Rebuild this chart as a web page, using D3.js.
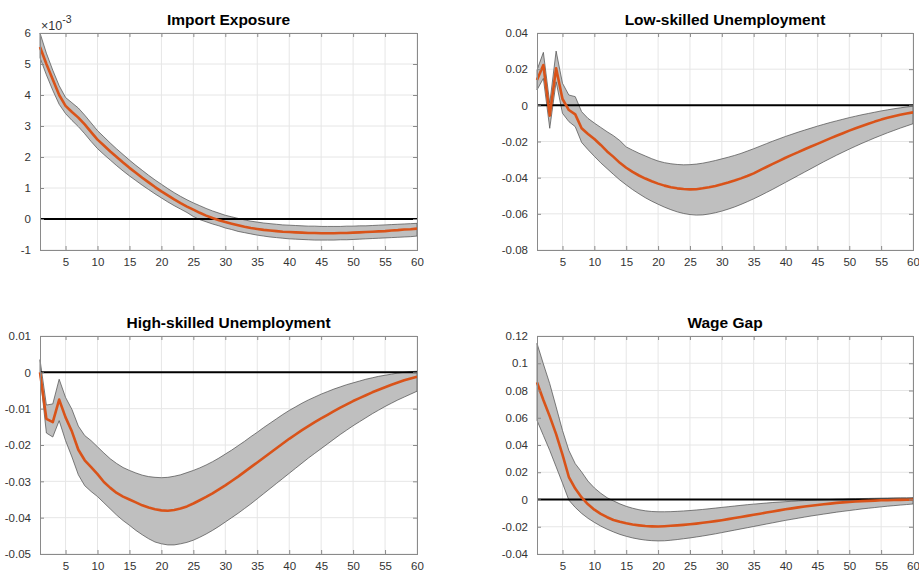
<!DOCTYPE html>
<html>
<head>
<meta charset="utf-8">
<script src="https://cdnjs.cloudflare.com/ajax/libs/d3/7.8.5/d3.min.js"></script>
<style>
  html, body { margin: 0; padding: 0; background: #fff; }
  svg { display: block; font-family: "Liberation Sans", Arial, Helvetica, sans-serif; }
</style>
</head>
<body>
<svg id="chart" width="919" height="571"></svg>
<script>
// Horizon (periods after the shock)
const periods = d3.range(1, 61);
const xTicks = [5, 10, 15, 20, 25, 30, 35, 40, 45, 50, 55, 60];

// Import Exposure, in units of 10^-3
const importMean = [5.55, 5.0, 4.5, 4.0, 3.65, 3.45, 3.27, 3.05, 2.8, 2.56,
  2.37, 2.18, 2.0, 1.82, 1.65, 1.49, 1.33, 1.18, 1.03, 0.89,
  0.76, 0.63, 0.51, 0.40, 0.30, 0.20, 0.11, 0.03, -0.04, -0.10,
  -0.15, -0.20, -0.25, -0.29, -0.32, -0.35, -0.37, -0.39, -0.41, -0.42,
  -0.43, -0.44, -0.45, -0.45, -0.46, -0.46, -0.46, -0.45, -0.45, -0.44,
  -0.43, -0.42, -0.41, -0.40, -0.39, -0.37, -0.36, -0.34, -0.33, -0.31];
const importUpper = [6.0, 5.35, 4.8, 4.3, 3.92, 3.75, 3.58, 3.35, 3.1, 2.85,
  2.65, 2.45, 2.26, 2.08, 1.9, 1.73, 1.57, 1.41, 1.26, 1.12,
  0.98, 0.85, 0.73, 0.62, 0.52, 0.43, 0.34, 0.26, 0.19, 0.12,
  0.07, 0.02, -0.03, -0.07, -0.10, -0.13, -0.15, -0.17, -0.19, -0.20,
  -0.21, -0.22, -0.23, -0.23, -0.24, -0.24, -0.24, -0.24, -0.23, -0.23,
  -0.22, -0.22, -0.21, -0.20, -0.19, -0.18, -0.17, -0.16, -0.15, -0.14];
const importLower = [5.2, 4.65, 4.15, 3.7, 3.4, 3.18, 2.98, 2.75, 2.5, 2.27,
  2.08, 1.9, 1.72, 1.55, 1.39, 1.24, 1.09, 0.95, 0.81, 0.68,
  0.55, 0.43, 0.32, 0.21, 0.08, -0.02, -0.09, -0.16, -0.22, -0.29,
  -0.34, -0.40, -0.44, -0.48, -0.52, -0.55, -0.58, -0.60, -0.62, -0.64,
  -0.65, -0.66, -0.67, -0.68, -0.68, -0.68, -0.68, -0.67, -0.67, -0.66,
  -0.65, -0.64, -0.63, -0.62, -0.61, -0.60, -0.59, -0.58, -0.57, -0.55];

// Low-skilled Unemployment
const lowMean = [0.014, 0.0223, -0.0057, 0.0205, 0.0035, -0.0026, -0.005, -0.0127, -0.0158, -0.0186,
  -0.0219, -0.0255, -0.0285, -0.0318, -0.0345, -0.0368, -0.0388, -0.0405, -0.042, -0.0433,
  -0.0444, -0.0453, -0.0459, -0.0463, -0.0465, -0.0464, -0.0459, -0.0453, -0.0446, -0.0437,
  -0.0427, -0.0416, -0.0404, -0.0391, -0.0376, -0.0358, -0.0341, -0.0324, -0.0307, -0.029,
  -0.0274, -0.0259, -0.0243, -0.0228, -0.0213, -0.0198, -0.0183, -0.0168, -0.0154, -0.014,
  -0.0127, -0.0114, -0.0102, -0.009, -0.0079, -0.0069, -0.006, -0.0052, -0.0045, -0.0039];
const lowUpper = [0.0195, 0.0293, 0.0011, 0.030, 0.0122, 0.0057, 0.0048, -0.0035, -0.0072, -0.0098,
  -0.0122, -0.0146, -0.0168, -0.0195, -0.023, -0.0248, -0.0265, -0.028, -0.0295, -0.0308,
  -0.0317, -0.0323, -0.0327, -0.0329, -0.0328, -0.0325, -0.032, -0.0313, -0.0305, -0.0296,
  -0.0287, -0.0277, -0.0266, -0.0253, -0.024, -0.0226, -0.0212, -0.0198, -0.0185, -0.0172,
  -0.016, -0.0148, -0.0137, -0.0126, -0.0115, -0.0105, -0.0095, -0.0086, -0.0077, -0.0068,
  -0.006, -0.0052, -0.0045, -0.0038, -0.0031, -0.0025, -0.0019, -0.0014, -0.0009, -0.0005];
const lowLower = [0.0085, 0.0149, -0.0127, 0.013, -0.0044, -0.009, -0.0118, -0.0205, -0.0245, -0.0282,
  -0.0318, -0.035, -0.0382, -0.0413, -0.044, -0.0466, -0.0489, -0.0511, -0.053, -0.0547,
  -0.0563, -0.0577, -0.0589, -0.0598, -0.0604, -0.0607, -0.0606, -0.0601, -0.0594, -0.0585,
  -0.0574, -0.0562, -0.0548, -0.0533, -0.0517, -0.05, -0.0482, -0.0464, -0.0445, -0.0426,
  -0.0407, -0.0388, -0.0369, -0.035, -0.0331, -0.0312, -0.0294, -0.0276, -0.0259, -0.0242,
  -0.0226, -0.021, -0.0195, -0.018, -0.0166, -0.0152, -0.0139, -0.0126, -0.0114, -0.0102];

// High-skilled Unemployment
const highMean = [0, -0.0128, -0.0137, -0.0075, -0.0124, -0.0163, -0.0213, -0.0242, -0.0261, -0.028,
  -0.0302, -0.0318, -0.0332, -0.0342, -0.035, -0.0358, -0.0366, -0.0372, -0.0377, -0.038,
  -0.0381, -0.0379, -0.0375, -0.0369, -0.0361, -0.0352, -0.0343, -0.0333, -0.0322, -0.0311,
  -0.0299, -0.0287, -0.0274, -0.0261, -0.0248, -0.0235, -0.0222, -0.0209, -0.0196, -0.0183,
  -0.0171, -0.0159, -0.0148, -0.0137, -0.0127, -0.0117, -0.0107, -0.0097, -0.0088, -0.0079,
  -0.0071, -0.0063, -0.0055, -0.0048, -0.0041, -0.0034, -0.0028, -0.0022, -0.0017, -0.0012];
const highUpper = [0.0035, -0.009, -0.0087, -0.0019, -0.0069, -0.0102, -0.0148, -0.0174, -0.0188, -0.0205,
  -0.0222, -0.0238, -0.0251, -0.0262, -0.027, -0.0277, -0.0283, -0.0287, -0.0289, -0.029,
  -0.0289, -0.0286, -0.0282, -0.0276, -0.027, -0.0263, -0.0255, -0.0246, -0.0236, -0.0225,
  -0.0214, -0.0202, -0.019, -0.0177, -0.0165, -0.0152, -0.014, -0.0128, -0.0116, -0.0105,
  -0.0095, -0.0085, -0.0076, -0.0068, -0.006, -0.0053, -0.0046, -0.004, -0.0034, -0.0029,
  -0.0024, -0.0019, -0.0015, -0.0011, -0.0008, -0.0005, -0.0002, 0.0, 0.0002, 0.0003];
const highLower = [-0.0005, -0.0167, -0.0178, -0.0133, -0.0188, -0.0233, -0.0282, -0.0312, -0.0328, -0.0342,
  -0.0359, -0.0376, -0.0393, -0.0408, -0.0421, -0.0435, -0.0447, -0.0458, -0.0467, -0.0472,
  -0.0475, -0.0475, -0.0472, -0.0468, -0.0462, -0.0454, -0.0445, -0.0435, -0.0424, -0.0412,
  -0.04, -0.0388, -0.0375, -0.0362, -0.0348, -0.0334, -0.032, -0.0306, -0.0292, -0.0278,
  -0.0264, -0.025, -0.0236, -0.0223, -0.021, -0.0197, -0.0184, -0.0171, -0.0159, -0.0147,
  -0.0136, -0.0125, -0.0114, -0.0104, -0.0094, -0.0085, -0.0076, -0.0068, -0.006, -0.0052];

// Wage Gap
const wageMean = [0.086, 0.073, 0.061, 0.048, 0.033, 0.0165, 0.008, 0.0015, -0.0035, -0.0075,
  -0.0105, -0.013, -0.015, -0.0164, -0.0175, -0.0184, -0.019, -0.0195, -0.0197, -0.0198,
  -0.0196, -0.0193, -0.019, -0.0186, -0.0182, -0.0177, -0.0171, -0.0165, -0.0159, -0.0152,
  -0.0144, -0.0136, -0.0128, -0.012, -0.0112, -0.0104, -0.0096, -0.0088, -0.008, -0.0072,
  -0.0065, -0.0058, -0.0052, -0.0046, -0.004, -0.0035, -0.003, -0.0025, -0.0021, -0.0018,
  -0.0015, -0.0012, -0.001, -0.0008, -0.0006, -0.0005, -0.0004, -0.0003, -0.0002, -0.0001];
const wageUpper = [0.1146, 0.0995, 0.085, 0.068, 0.0507, 0.036, 0.0263, 0.0202, 0.0135, 0.0085,
  0.0046, 0.0013, -0.001, -0.0032, -0.005, -0.0064, -0.0075, -0.0083, -0.0088, -0.009,
  -0.009, -0.0089, -0.0087, -0.0084, -0.0081, -0.0077, -0.0073, -0.0068, -0.0063, -0.0058,
  -0.0053, -0.0048, -0.0043, -0.0038, -0.0034, -0.003, -0.0026, -0.0022, -0.0019, -0.0016,
  -0.0013, -0.001, -0.0008, -0.0006, -0.0004, -0.0002, 0.0, 0.0002, 0.0003, 0.0005,
  0.0006, 0.0007, 0.0008, 0.0009, 0.001, 0.0011, 0.0012, 0.0013, 0.0013, 0.0014];
const wageLower = [0.058, 0.047, 0.036, 0.024, 0.012, -0.0005, -0.0058, -0.0102, -0.0138, -0.0168,
  -0.0195, -0.0218, -0.0238, -0.0256, -0.027, -0.0282, -0.0291, -0.0298, -0.0302, -0.0304,
  -0.0303, -0.0299, -0.0294, -0.0288, -0.0282, -0.0275, -0.0268, -0.026, -0.0252, -0.0243,
  -0.0234, -0.0225, -0.0216, -0.0207, -0.0198, -0.0189, -0.018, -0.0171, -0.0162, -0.0153,
  -0.0145, -0.0137, -0.0129, -0.0121, -0.0114, -0.0107, -0.01, -0.0093, -0.0087, -0.0081,
  -0.0075, -0.0069, -0.0064, -0.0059, -0.0054, -0.0049, -0.0045, -0.0041, -0.0037, -0.0033];

// Panel titles and y-axis ticks
const titles = ["Import Exposure", "Low-skilled Unemployment", "High-skilled Unemployment", "Wage Gap"];
const importTicks = [-1, 0, 1, 2, 3, 4, 5, 6];
const lowTicks = [-0.08, -0.06, -0.04, -0.02, 0, 0.02, 0.04];
const highTicks = [-0.05, -0.04, -0.03, -0.02, -0.01, 0, 0.01];
const wageTicks = [-0.04, -0.02, 0, 0.02, 0.04, 0.06, 0.08, 0.1, 0.12];

const panels = [
  { title: titles[0], mean: importMean, upper: importUpper, lower: importLower, ticks: importTicks,
    box: { left: 40, right: 417, top: 33, bottom: 250 }, exponent: -3 },
  { title: titles[1], mean: lowMean, upper: lowUpper, lower: lowLower, ticks: lowTicks,
    box: { left: 537, right: 913, top: 33, bottom: 250 } },
  { title: titles[2], mean: highMean, upper: highUpper, lower: highLower, ticks: highTicks,
    box: { left: 40, right: 417, top: 336, bottom: 554 } },
  { title: titles[3], mean: wageMean, upper: wageUpper, lower: wageLower, ticks: wageTicks,
    box: { left: 537, right: 913, top: 336, bottom: 554 } }
];

const svg = d3.select("#chart");
// plain decimal labels with a hyphen minus and no trailing zeros
const fmt = v => String(+v.toFixed(4));

panels.forEach(p => {
  const b = p.box;
  const w = b.right - b.left, h = b.bottom - b.top;
  const g = svg.append("g").attr("transform", `translate(${b.left},${b.top})`);

  const x = d3.scaleLinear().domain([1, 60]).range([0, w]);
  const y = d3.scaleLinear().domain(d3.extent(p.ticks)).range([h, 0]);

  // grid
  g.append("g").selectAll("line").data(xTicks).join("line")
    .attr("x1", d => x(d)).attr("x2", d => x(d)).attr("y1", 0).attr("y2", h)
    .attr("stroke", "#e6e6e6").attr("stroke-width", 1);
  g.append("g").selectAll("line").data(p.ticks).join("line")
    .attr("x1", 0).attr("x2", w).attr("y1", d => y(d)).attr("y2", d => y(d))
    .attr("stroke", "#e6e6e6").attr("stroke-width", 1);

  const rows = periods.map((t, i) => ({ t, m: p.mean[i], u: p.upper[i], l: p.lower[i] }));

  // confidence band
  const band = d3.area().x(d => x(d.t)).y0(d => y(d.l)).y1(d => y(d.u));
  g.append("path").datum(rows).attr("d", band)
    .attr("fill", "#bfbfbf").attr("stroke", "#4a4a4a").attr("stroke-width", 0.7);

  // zero line
  g.append("line").attr("x1", 0).attr("x2", w).attr("y1", y(0)).attr("y2", y(0))
    .attr("stroke", "#000").attr("stroke-width", 2);

  // point estimate
  const line = d3.line().x(d => x(d.t)).y(d => y(d.m));
  g.append("path").datum(rows).attr("d", line)
    .attr("fill", "none").attr("stroke", "#d95319").attr("stroke-width", 2.6)
    .attr("stroke-linejoin", "round");

  // axes with inward ticks on all four sides
  const axisColor = "#8a8a8a";
  const bottom = g.append("g").attr("transform", `translate(0,${h})`)
    .call(d3.axisBottom(x).tickValues(xTicks).tickSizeInner(-4).tickSizeOuter(0).tickPadding(8).tickFormat(d3.format("d")));
  const left = g.append("g")
    .call(d3.axisLeft(y).tickValues(p.ticks).tickSizeInner(-4).tickSizeOuter(0).tickPadding(9).tickFormat(fmt));
  const top = g.append("g")
    .call(d3.axisTop(x).tickValues(xTicks).tickSizeInner(-4).tickSizeOuter(0).tickFormat(""));
  const right = g.append("g").attr("transform", `translate(${w},0)`)
    .call(d3.axisRight(y).tickValues(p.ticks).tickSizeInner(-4).tickSizeOuter(0).tickFormat(""));
  [bottom, left, top, right].forEach(a => {
    a.select(".domain").remove();
    a.selectAll("line").attr("stroke", axisColor);
    a.selectAll("text").attr("fill", "#333").style("font-size", "11.5px")
      .style("font-family", "'Liberation Sans', Arial, Helvetica, sans-serif");
  });
  g.append("rect").attr("x", 0).attr("y", 0).attr("width", w).attr("height", h)
    .attr("fill", "none").attr("stroke", axisColor).attr("stroke-width", 1)
    .attr("shape-rendering", "crispEdges");

  // title
  svg.append("text").attr("x", b.left + w / 2).attr("y", b.top - 8)
    .attr("text-anchor", "middle").attr("font-weight", "bold").attr("font-size", "15.5px")
    .attr("fill", "#000").text(p.title);

  // exponent marker
  if (p.exponent !== undefined) {
    const t = svg.append("text").attr("x", b.left + 1).attr("y", b.top - 3)
      .attr("fill", "#333").attr("font-size", "12.5px");
    t.append("tspan").text("\u00d710");
    t.append("tspan").attr("dy", -7).attr("font-size", "10.5px").text(String(p.exponent));
  }
});
</script>
</body>
</html>
